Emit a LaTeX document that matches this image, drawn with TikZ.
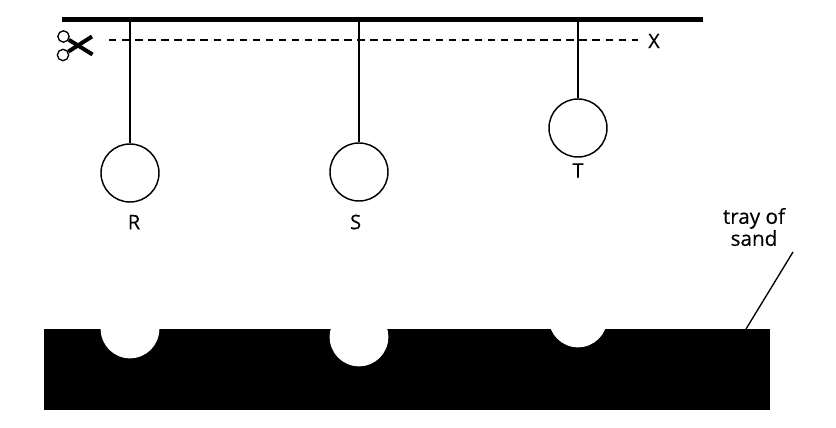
\documentclass[tikz,border=0pt]{standalone}
\usepackage{fontspec}
\setmainfont{Open Sans}
\newfontfamily\lblfont[FakeBold=0.25]{Open Sans}
\usetikzlibrary{positioning}
\tikzset{
    ball/.style={
        circle,
        draw=black,
        line width=1.1pt,
        fill=white,
        inner sep=0pt,
        minimum size=43.5pt,
    },
    dent/.style={
        circle,
        fill=white,
        inner sep=0pt,
        minimum size=44pt,
    },
    tray/.style={
        rectangle,
        fill=black,
        inner sep=0pt,
        minimum width=544.5pt,
        minimum height=60.75pt,
    },
    wire/.style={line width=1pt},
    lbl/.style={font=\lblfont\fontsize{15}{17}\selectfont,inner sep=0pt},
    loop/.style={circle,draw=black,line width=1pt,inner sep=0pt,minimum size=8.5pt},
    blade/.style={line width=3pt},
}
\begin{document}
\begin{tikzpicture}[x=0.75pt,y=-0.75pt]
    \useasboundingbox (0,0) rectangle (836,428);

    % support
    \coordinate (barL) at (62,19.5);
    \coordinate (barR) at (703,19.5);
    \draw[line width=3.2pt] (barL) -- (barR);

    % tray and hollows
    \node [tray] (sand) at (407,369.5) {};
    \node [dent] (dentR) at (130,329) {};
    \node [dent] (dentS) at (359,337) {};
    \node [dent] (dentT) at (578,318) {};

    % balls
    \node [ball] (R) at (130,173) {};
    \node [ball] (S) at (359,172) {};
    \node [ball] (T) at (578,128) {};
    \node [lbl,below=9pt of R,xshift=3pt] (labR) {R};
    \node [lbl,below=9.5pt of S,xshift=-2.5pt] (labS) {S};
    \node [lbl,below=4pt of T] (labT) {T};

    \coordinate (topR) at (130,19);
    \coordinate (topS) at (359,19);
    \coordinate (topT) at (578,19);
    \draw[wire] (topR) -- (R);
    \draw[wire] (topS) -- (S);
    \draw[wire] (topT) -- (T);

    % cut line
    \coordinate (cutL) at (109,40);
    \node [lbl] (X) at (654,41) {X};
    \draw[wire,dash pattern=on 5.6pt off 4.2pt] (cutL) -- (638,40);

    % scissors
    \node [loop] (loopA) at (63.5,36.5) {};
    \node [loop] (loopB) at (63,55) {};
    \coordinate (tipA) at (92.5,54.5);
    \coordinate (tipB) at (92,36.5);
    \draw[blade] (loopA) -- (tipA);
    \draw[blade] (loopB) -- (tipB);

    % tray label
    \node [lbl,align=center,font=\lblfont\fontsize{15.5}{16.5}\selectfont] (trayLab) at (754,227) {tray of\\sand};
    \coordinate (leadTop) at (793,252);
    \coordinate (leadEnd) at (746,329);
    \draw[wire] (leadTop) -- (leadEnd);
\end{tikzpicture}
\end{document}
